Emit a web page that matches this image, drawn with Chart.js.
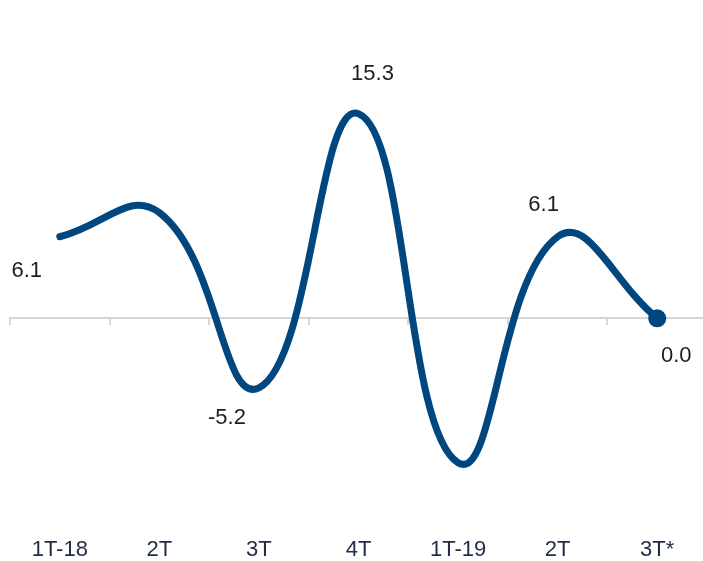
<!DOCTYPE html>
<html>
<head>
<meta charset="utf-8">
<script src="https://cdn.jsdelivr.net/npm/chart.js@4"></script>
<style>
  html, body { margin: 0; padding: 0; background: #fff; overflow: hidden; }
  #wrap { width: 707px; height: 561px; position: relative; }
</style>
</head>
<body>
<div id="wrap"><canvas id="chart"></canvas></div>
<script>
// quarters
const labels = ["1T-18", "2T", "3T", "4T", "1T-19", "2T", "3T*"];
// growth values
const values = [6.1, 7.9, -5.2, 15.3, -10.8, 6.1, 0.0];
// which points carry a value label
const showLabel = [true, false, true, true, false, true, true];
// label offset from its point, in px
const labelOffsets = [[-33, 34], null, [-32, 30], [14, -40], null, [-14, -32], [19, 38]];

const lineColor = "#00467f";

const pointLabels = {
    id: "pointLabels",
    afterDatasetsDraw(chart) {
        const ctx = chart.ctx;
        const meta = chart.getDatasetMeta(0);
        ctx.save();
        ctx.font = "22px 'Liberation Sans', Arial, sans-serif";
        ctx.fillStyle = "#1e1e1e";
        ctx.textAlign = "center";
        ctx.textBaseline = "middle";
        meta.data.forEach((pt, i) => {
            if (!showLabel[i]) return;
            const off = labelOffsets[i];
            ctx.fillText(values[i].toFixed(1), pt.x + off[0], pt.y + off[1]);
        });
        ctx.restore();
    },
};

const ctx = document.getElementById("chart").getContext("2d");
new Chart(ctx, {
    type: "line",
    data: {
        labels,
        datasets: [
            {
                data: values,
                borderColor: lineColor,
                backgroundColor: lineColor,
                borderWidth: 7,
                tension: 0.45,
                borderCapStyle: "round",
                pointRadius: values.map((v, i) => (i === values.length - 1 ? 9 : 0)),
                pointHoverRadius: 0,
                pointBorderWidth: 0,
                clip: false,
            },
        ],
    },
    options: {
        responsive: true,
        maintainAspectRatio: false,
        animation: false,
        layout: { autoPadding: false, padding: { top: 4, left: 10, right: 0, bottom: 0 } },
        plugins: {
            legend: { display: false },
            tooltip: { enabled: false },
        },
        scales: {
            y: {
                display: false,
                min: -16.5,
                max: 23.5,
            },
            x: {
                type: "category",
                position: { y: 0 },
                offset: true,
                grid: {
                    offset: true,
                    drawOnChartArea: false,
                    drawTicks: true,
                    tickLength: 6,
                    color: "#d6d6d6",
                    lineWidth: 2,
                },
                border: { display: true, color: "#d6d6d6", width: 2 },
                ticks: { display: false },
            },
            x2: {
                type: "category",
                position: "bottom",
                offset: true,
                grid: { display: false, drawTicks: false },
                border: { display: false },
                ticks: {
                    padding: 0,
                    color: "#1f2b48",
                    maxRotation: 0,
                    autoSkip: false,
                    font: { family: "'Liberation Sans', Arial, sans-serif", size: 22, lineHeight: 1 },
                },
            },
        },
    },
    plugins: [pointLabels],
});
</script>
</body>
</html>
